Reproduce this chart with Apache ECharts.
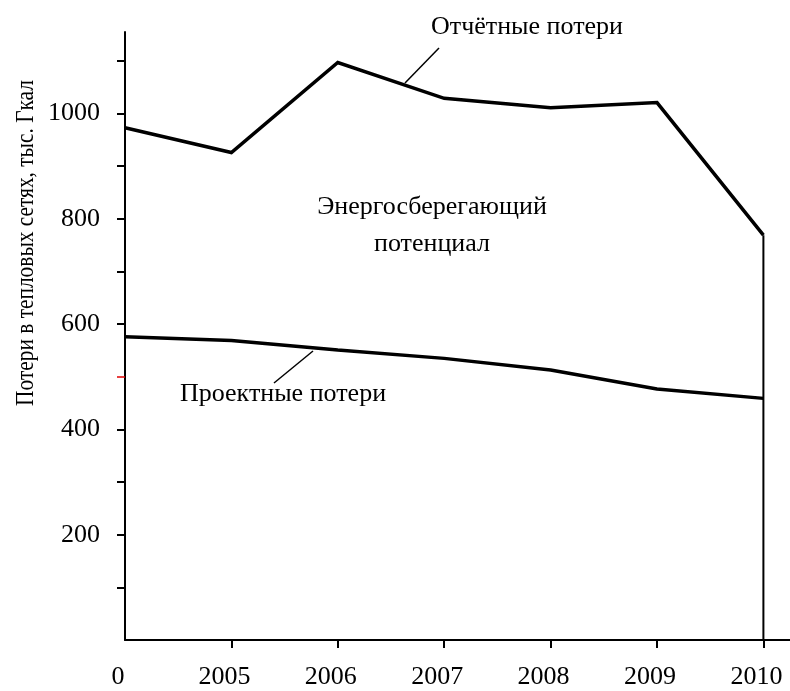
<!DOCTYPE html>
<html>
<head>
<meta charset="utf-8">
<script src="https://cdn.jsdelivr.net/npm/echarts@6/dist/echarts.min.js"></script>
<style>
  html, body { margin: 0; padding: 0; background: #fff; }
  #chart { width: 790px; height: 691px; }
</style>
</head>
<body>
<div id="chart"></div>
<script>
// данные
const years = [2004, 2005, 2006, 2007, 2008, 2009, 2010]
const xTickLabels = ['0', '2005', '2006', '2007', '2008', '2009', '2010']
const reportedLoss = [973, 926, 1097, 1029, 1011, 1021, 769]
const designLoss = [576, 569, 551, 535, 513, 477, 459]
const yTicks = [100, 200, 300, 400, 600, 700, 800, 900, 1000, 1100]
const yTickLabels = [200, 400, 600, 800, 1000]
const redTick = [500]

const font = 'Liberation Serif, Times New Roman, serif'
const myChart = echarts.init(document.getElementById('chart'))

const pair = arr => years.map((y, i) => [y, arr[i]])
const last = years.length - 1

const option = {
  backgroundColor: '#fff',
  animation: false,
  grid: { left: 125, right: 0, top: 32, bottom: 51 },
  xAxis: {
    type: 'value',
    min: 2004,
    max: 2010.25,
    interval: 1,
    splitLine: { show: false },
    axisLine: { lineStyle: { color: '#000', width: 2 } },
    axisTick: {
      customValues: years.slice(1),
      length: 8,
      lineStyle: { color: '#000', width: 2 }
    },
    axisLabel: {
      customValues: years,
      formatter: v => xTickLabels[years.indexOf(v)] || '',
      color: '#000',
      fontFamily: font,
      fontSize: 26,
      margin: 24,
      padding: [0, 14, 0, 0]
    }
  },
  yAxis: [
    {
      type: 'value',
      min: 0,
      max: 1155,
      splitLine: { show: false },
      axisLine: { show: true, lineStyle: { color: '#000', width: 2 } },
      axisTick: {
        customValues: yTicks,
        length: 8,
        lineStyle: { color: '#000', width: 2 }
      },
      axisLabel: {
        customValues: yTickLabels,
        formatter: v => String(v),
        color: '#000',
        fontFamily: font,
        fontSize: 26,
        margin: 25
      }
    },
    {
      type: 'value',
      min: 0,
      max: 1155,
      position: 'left',
      splitLine: { show: false },
      axisLine: { show: false },
      axisTick: {
        customValues: redTick,
        length: 8,
        lineStyle: { color: '#e00000', width: 1.5 }
      },
      axisLabel: { show: false }
    }
  ],
  series: [
    {
      name: 'Отчётные потери',
      type: 'line',
      data: pair(reportedLoss),
      symbol: 'none',
      lineStyle: { color: '#000', width: 3.5, join: 'miter' }
    },
    {
      name: 'Проектные потери',
      type: 'line',
      data: pair(designLoss),
      symbol: 'none',
      lineStyle: { color: '#000', width: 3.5 }
    },
    {
      // спад до оси в 2010
      type: 'line',
      data: [[years[last], reportedLoss[last]], [years[last], 0]],
      symbol: 'none',
      lineStyle: { color: '#000', width: 2 }
    }
  ],
  graphic: [
    {
      // подпись оси сжата по длине, как в оригинале
      type: 'text',
      x: 26, y: 243,
      rotation: Math.PI / 2,
      scaleX: 0.855,
      style: {
        text: 'Потери в тепловых сетях, тыс. Гкал',
        font: '25px ' + font,
        fill: '#000',
        align: 'center',
        verticalAlign: 'middle'
      }
    },
    {
      type: 'text',
      x: 527, y: 27,
      style: {
        text: 'Отчётные потери',
        font: '26px ' + font,
        fill: '#000',
        align: 'center',
        verticalAlign: 'middle'
      }
    },
    {
      type: 'line',
      shape: { x1: 439, y1: 48, x2: 405, y2: 83 },
      style: { stroke: '#000', lineWidth: 1.5 }
    },
    {
      type: 'text',
      x: 432, y: 226,
      style: {
        text: 'Энергосберегающий\nпотенциал',
        font: '26px ' + font,
        lineHeight: 37,
        fill: '#000',
        align: 'center',
        verticalAlign: 'middle'
      }
    },
    {
      type: 'text',
      x: 283, y: 394,
      style: {
        text: 'Проектные потери',
        font: '26px ' + font,
        fill: '#000',
        align: 'center',
        verticalAlign: 'middle'
      }
    },
    {
      type: 'line',
      shape: { x1: 274, y1: 383, x2: 313, y2: 351 },
      style: { stroke: '#000', lineWidth: 1.5 }
    }
  ]
}

myChart.setOption(option)
</script>
</body>
</html>
